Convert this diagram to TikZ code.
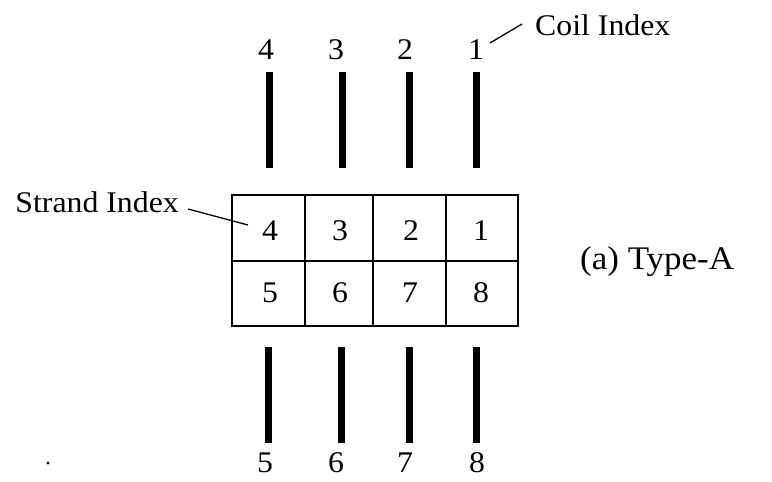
\documentclass[tikz,border=0pt]{standalone}
\usepackage{fontspec}
\setmainfont{Liberation Serif}
\newcommand{\wide}[1]{\scalebox{1.06}[1]{#1}}
\begin{document}
\begin{tikzpicture}[x=1pt,y=-1pt,
  lbl/.style={font=\fontsize{30}{35}\selectfont, inner sep=0pt, anchor=center},
  biglbl/.style={font=\fontsize{33}{38}\selectfont, inner sep=0pt},
  gridline/.style={line width=2.8pt},
  bar/.style={line width=7pt},
  leader/.style={line width=1.3pt}]
\useasboundingbox (0,0) rectangle (772,482);
% grid
\draw[gridline] (232,195) rectangle (518,326);
\draw[gridline] (232,261) -- (518,261);
\draw[gridline] (305,195) -- (305,326);
\draw[gridline] (373,195) -- (373,326);
\draw[gridline] (446,195) -- (446,326);
% cell labels
\node[lbl] (s4) at (270,231) {\wide{4}};
\node[lbl] (s3) at (340,231) {\wide{3}};
\node[lbl] (s2) at (411,231) {\wide{2}};
\node[lbl] (s1) at (481,231) {\wide{1}};
\node[lbl] (s5) at (270,293) {\wide{5}};
\node[lbl] (s6) at (340,293) {\wide{6}};
\node[lbl] (s7) at (410,293) {\wide{7}};
\node[lbl] (s8) at (481,293) {\wide{8}};
% top bars and coil labels
\foreach \x/\n/\lx in {269/4/266, 342/3/336, 409/2/405, 476/1/476}{
  \draw[bar] (\x,72) -- (\x,168);
  \node[lbl] (c\n) at (\lx,50) {\wide{\n}};
}
% bottom bars and coil labels
\foreach \x/\n/\lx in {268/5/265, 341/6/336, 409/7/405, 476/8/477}{
  \draw[bar] (\x,347) -- (\x,443);
  \node[lbl] (c\n) at (\lx,463) {\wide{\n}};
}
% annotations
\node[lbl, anchor=west] (coilidx) at (535,25) {\wide{Coil Index}};
\coordinate (coilend) at (490,43);
\coordinate (coilstart) at (522,24);
\draw[leader] (coilend) -- (coilstart);
\node[lbl, anchor=east] (strandidx) at (179,202) {\wide{Strand Index}};
\coordinate (strandstart) at (188,209);
\coordinate (strandend) at (248,225);
\draw[leader] (strandstart) -- (strandend);
\node[biglbl, anchor=west] (typea) at (580,262) {\wide{(a) Type-A}};
% scan speck
\fill (48,463) circle (1.6);
\end{tikzpicture}
\end{document}
